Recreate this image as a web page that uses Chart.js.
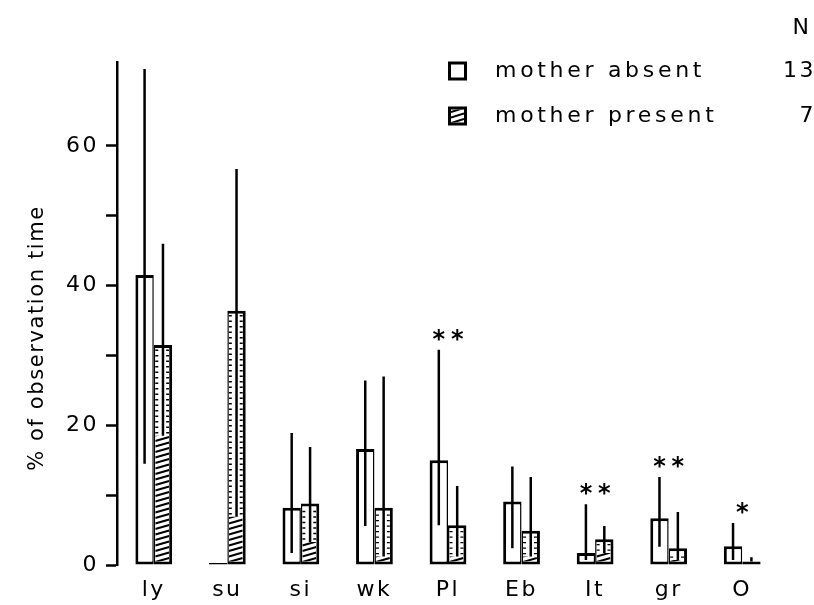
<!DOCTYPE html>
<html>
<head>
<meta charset="utf-8">
<script src="https://cdn.jsdelivr.net/npm/chart.js@4"></script>
<style>
  html, body { margin: 0; padding: 0; background: #fff; }
  canvas { display: block; }
</style>
</head>
<body>
<canvas id="c" width="814" height="605"></canvas>
<script>
// Behaviour categories
const categories = ['ly', 'su', 'si', 'wk', 'Pl', 'Eb', 'It', 'gr', 'O'];

// Mean % of observation time, with the lower / upper ends of the deviation lines
const absentMean  = [41.5, 0,    8.2, 16.6, 15.0, 9.1, 1.7, 6.7, 2.7];
const absentLow   = [14.5, null, 1.7, 5.6,  5.7,  2.4, 0.7, 2.6, 0.7];
const absentHigh  = [71.0, null, 18.9, 26.4, 30.8, 14.1, 8.7, 12.6, 6.0];

const presentMean = [31.5, 36.4, 8.8, 8.2,  5.7,  4.9,  3.7, 2.4, 0.5];
const presentLow  = [18.5, 6.9,  3.3, 1.2,  1.2,  1.2,  1.7, 0.7, 0.5];
const presentHigh = [46.0, 56.7, 16.9, 27.0, 11.3, 12.6, 5.6, 7.6, 1.1];

// Significance marks per category
const significance = ['', '', '', '', '**', '', '**', '**', '*'];

// Legend entries and sample sizes
const seriesNames = ['mother absent', 'mother present'];
const sampleSizes = [13, 7];

// Axis
const yMax = 72;
const yStep = 10;
const yLabelEvery = 20;
const yTitle = '% of observation time';

const FONT = '"DejaVu Sans", sans-serif';
const INK = '#000';
const SPACING = '2.5px';

function hatch(ctx, x0, x1, yTop, yBottom) {
  if (yBottom - yTop < 1) return;
  ctx.save();
  ctx.beginPath();
  ctx.rect(x0, yTop, x1 - x0, yBottom - yTop);
  ctx.clip();
  ctx.strokeStyle = INK;
  ctx.lineWidth = 2;
  ctx.beginPath();
  for (let y = yBottom + 4; y > yTop - 6; y -= 5.5) {
    ctx.moveTo(x0, y + 2);
    ctx.lineTo(x1, y - 2);
  }
  ctx.stroke();
  ctx.restore();
}

function edgeTicks(ctx, x0, x1, yTop, yBottom) {
  ctx.save();
  ctx.strokeStyle = INK;
  ctx.lineWidth = 1.4;
  ctx.beginPath();
  for (let y = yBottom - 3; y > yTop + 2; y -= 5.5) {
    ctx.moveTo(x0, y); ctx.lineTo(x0 + 3, y);
    ctx.moveTo(x1, y); ctx.lineTo(x1 - 3, y);
  }
  ctx.stroke();
  ctx.restore();
}

// Canvas letter spacing for all text
const spacingPlugin = {
  id: 'spacing',
  beforeLayout(chart) { chart.ctx.letterSpacing = SPACING; },
  beforeDraw(chart) { chart.ctx.letterSpacing = SPACING; }
};

// Hatching of the "present" bars, deviation lines and significance marks
const marksPlugin = {
  id: 'marks',
  afterDatasetsDraw(chart) {
    const ctx = chart.ctx;
    const y = chart.scales.y;
    const absentMeta = chart.getDatasetMeta(0);
    const presentMeta = chart.getDatasetMeta(1);

    // hatching below the lower deviation end, edge dashes above it
    presentMeta.data.forEach((el, i) => {
      const p = el.getProps(['x', 'y', 'base', 'width'], true);
      const x0 = p.x - p.width / 2 + 1.5;
      const x1 = p.x + p.width / 2 - 3;
      const top = p.y + 3;
      const bottom = p.base - 3;
      const lowPix = Math.max(top, y.getPixelForValue(presentLow[i]));
      hatch(ctx, x0, x1, lowPix, bottom);
      if (lowPix - top > 6) edgeTicks(ctx, x0, x1, top, lowPix);
    });

    // deviation lines
    ctx.save();
    ctx.strokeStyle = INK;
    ctx.lineWidth = 2.5;
    ctx.beginPath();
    [[absentMeta, absentLow, absentHigh], [presentMeta, presentLow, presentHigh]].forEach(([meta, lows, highs]) => {
      meta.data.forEach((el, i) => {
        if (highs[i] == null) return;
        const x = el.getProps(['x'], true).x;
        ctx.moveTo(x, y.getPixelForValue(lows[i]));
        ctx.lineTo(x, y.getPixelForValue(highs[i]));
      });
    });
    ctx.stroke();
    ctx.restore();

    // significance asterisks
    ctx.save();
    ctx.fillStyle = INK;
    ctx.font = 'bold 24px ' + FONT;
    ctx.letterSpacing = '0px';
    ctx.textAlign = 'center';
    ctx.textBaseline = 'alphabetic';
    significance.forEach((s, i) => {
      if (!s) return;
      const a = absentMeta.data[i].getProps(['x', 'width'], true);
      const pr = presentMeta.data[i].getProps(['x'], true);
      const cx = (a.x + pr.x) / 2;
      const top = Math.max(absentHigh[i] ?? 0, presentHigh[i] ?? 0);
      const cy = y.getPixelForValue(top) - 17;
      const n = s.length;
      for (let k = 0; k < n; k++) {
        const sx = cx + (k - (n - 1) / 2) * a.width;
        ctx.fillText('*', sx, cy + 14);
      }
    });
    ctx.restore();
  }
};

// Legend with sample sizes, and the vertical axis title
const legendPlugin = {
  id: 'legendN',
  afterDraw(chart) {
    const ctx = chart.ctx;
    ctx.save();
    ctx.fillStyle = INK;
    ctx.strokeStyle = INK;
    ctx.font = '22px ' + FONT;
    ctx.letterSpacing = '3.7px';
    ctx.textBaseline = 'middle';

    const rows = [71, 116];
    ctx.lineWidth = 3;
    ctx.strokeRect(449.5, rows[0] - 8, 16, 16);
    ctx.strokeRect(449.5, rows[1] - 8, 16, 16);
    hatch(ctx, 451, 464, rows[1] - 6.5, rows[1] + 6.5);

    ctx.textAlign = 'left';
    ctx.fillText(seriesNames[0], 495, rows[0]);
    ctx.fillText(seriesNames[1], 495, rows[1]);

    ctx.letterSpacing = SPACING;
    ctx.textAlign = 'right';
    ctx.fillText(String(sampleSizes[0]), 816, rows[0]);
    ctx.fillText(String(sampleSizes[1]), 816, rows[1]);

    ctx.textAlign = 'center';
    ctx.fillText('N', 802, 28);

    // vertical axis title
    ctx.font = '21px ' + FONT;
    ctx.letterSpacing = '1.6px';
    ctx.translate(38, 338);
    ctx.rotate(-Math.PI / 2);
    ctx.textAlign = 'center';
    ctx.fillText(yTitle, 0, 0);
    ctx.restore();
  }
};

const tickFont = { family: FONT, size: 22 };

new Chart(document.getElementById('c'), {
  type: 'bar',
  data: {
    labels: categories,
    datasets: [
      {
        label: seriesNames[0],
        data: absentMean,
        backgroundColor: '#fff',
        borderColor: INK,
        borderWidth: { top: 3, left: 3, bottom: 3, right: 1.5 },
        borderSkipped: false,
        minBarLength: 2,
        categoryPercentage: 0.5,
        barPercentage: 1
      },
      {
        label: seriesNames[1],
        data: presentMean,
        backgroundColor: '#fff',
        borderColor: INK,
        borderWidth: { top: 3, left: 1.5, bottom: 3, right: 3 },
        borderSkipped: false,
        minBarLength: 2,
        categoryPercentage: 0.5,
        barPercentage: 1
      }
    ]
  },
  options: {
    responsive: false,
    animation: false,
    devicePixelRatio: 1,
    layout: { padding: { top: 62, right: 35, bottom: 0, left: 0 } },
    plugins: {
      legend: { display: false },
      tooltip: { enabled: false }
    },
    scales: {
      x: {
        grid: { display: false, drawTicks: false },
        border: { display: false },
        ticks: { color: INK, font: tickFont, padding: 12, maxRotation: 0 },
        afterFit(s) { s.height = 40; }
      },
      y: {
        min: 0,
        max: yMax,
        grid: { drawOnChartArea: false, drawTicks: true, tickLength: 11, tickWidth: 2.5, tickColor: INK },
        border: { display: true, color: INK, width: 2.5 },
        ticks: {
          stepSize: yStep,
          color: INK,
          font: tickFont,
          padding: 7,
          callback: v => (v % yLabelEvery === 0 ? String(v) : '')
        },
        afterBuildTicks(s) { s.ticks = s.ticks.filter(t => t.value % yStep === 0); },
        afterFit(s) { s.width = 117; }
      }
    }
  },
  plugins: [spacingPlugin, marksPlugin, legendPlugin]
});
</script>
</body>
</html>
